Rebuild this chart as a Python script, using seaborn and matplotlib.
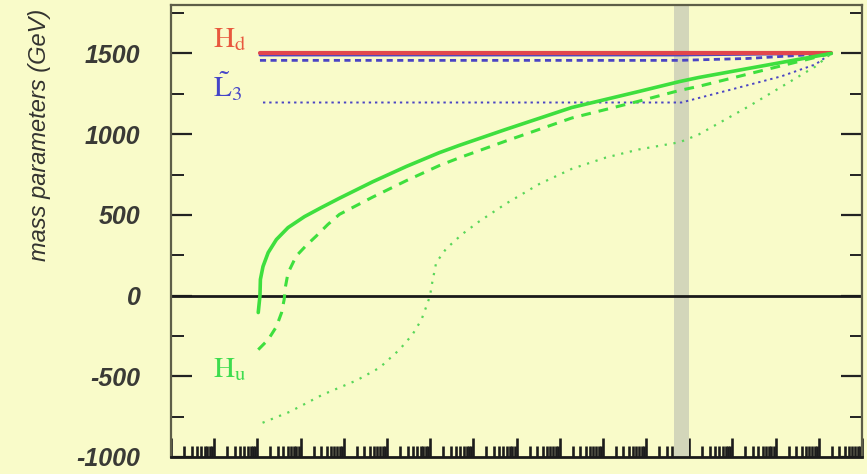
import numpy as np
import pandas as pd
import matplotlib
matplotlib.use("Agg")
import matplotlib.pyplot as plt
from matplotlib.ticker import LogLocator, MultipleLocator, NullFormatter, FixedLocator
import seaborn as sns

# ---- running of soft mass parameters, sign(m^2)*sqrt|m^2| in GeV, vs log10(Q/GeV) ----
# H_u (green), three scenarios: solid / dashed / dotted
hu_solid_logq = [3.02, 3.06, 3.07, 3.13, 3.25, 3.44, 3.71, 4.09, 4.48, 4.90, 5.67,
                 6.45, 7.21, 7.67, 8.76, 10.28, 11.83, 12.78, 13.22, 14.37, 16.29]
hu_solid_mass = [-105, 0, 100, 180, 266, 347, 421, 489, 545, 603, 705,
                 800, 885, 930, 1030, 1165, 1264, 1326, 1351, 1407, 1500]

hu_dashed_logq = [3.02, 3.25, 3.44, 3.56, 3.62, 3.65, 3.71, 3.90, 4.13, 4.36, 4.63,
                  4.90, 5.67, 6.45, 7.21, 7.67, 8.76, 10.28, 11.83, 12.78, 13.22,
                  14.60, 16.29]
hu_dashed_mass = [-335, -273, -193, -106, -25, 55, 140, 245, 310, 368, 440,
                  503, 610, 712, 805, 853, 958, 1100, 1204, 1271, 1296,
                  1388, 1500]

hu_dotted_logq = [3.12, 3.75, 4.51, 5.30, 5.83, 6.29, 6.59, 6.80, 6.91, 7.00, 7.03,
                  7.14, 7.37, 7.74, 8.14, 8.76, 9.52, 10.28, 11.07, 11.83, 12.78,
                  13.22, 14.37, 15.92, 16.29]
hu_dotted_mass = [-788, -720, -614, -525, -447, -335, -242, -149, -69, 0, 55,
                  204, 290, 380, 460, 570, 690, 785, 855, 905, 950,
                  998, 1171, 1419, 1500]

# L3 (blue)
l3_solid_logq = [3.06, 12.78, 16.29]
l3_solid_mass = [1490, 1490, 1500]
l3_dashed_logq = [3.06, 12.78, 14.37, 16.29]
l3_dashed_mass = [1457, 1457, 1469, 1500]
l3_dotted_logq = [3.13, 12.82, 13.98, 15.13, 15.92, 16.29]
l3_dotted_mass = [1196, 1196, 1277, 1358, 1432, 1500]

# H_d (red)
hd_logq = [3.06, 16.29]
hd_mass = [1500, 1500]

# right-handed neutrino threshold band, log10(Q/GeV)
threshold_logq = [12.64, 12.99]

y_ticks = [-1000, -500, 0, 500, 1000, 1500]

BG = "#F9FBC9"
GREEN = "#3EDF3E"
GREEN_DOT = "#5AD65A"
BLUE = "#4A44C4"
RED = "#E2464C"
SPINE = "#5E5E48"

sns.set_theme(style="ticks")
plt.rcParams["mathtext.fontset"] = "stix"
plt.rcParams["axes.unicode_minus"] = False
plt.rcParams["font.family"] = ["Liberation Sans", "DejaVu Sans"]

fig = plt.figure(figsize=(8.67, 4.74), dpi=100, facecolor=BG)
ax = fig.add_axes([171 / 867, 1 - 457 / 474, (862 - 171) / 867, (457 - 5) / 474])
ax.set_facecolor(BG)
ax.set_xscale("log")


def series(logq, mass):
    return pd.DataFrame({"Q": np.power(10.0, logq), "m": mass})


ax.axvspan(10 ** threshold_logq[0], 10 ** threshold_logq[1], color="#D3D6BA", lw=0, zorder=1)
ax.axhline(0, color="#1a1a1a", lw=2.0, zorder=2)

curves = [
    (l3_solid_logq, l3_solid_mass, BLUE, "-", 2.0),
    (l3_dashed_logq, l3_dashed_mass, BLUE, (0, (2.2, 1.6)), 2.0),
    (l3_dotted_logq, l3_dotted_mass, BLUE, (0, (1.2, 2.0)), 1.4),
    (hd_logq, hd_mass, RED, "-", 3.0),
    (hu_solid_logq, hu_solid_mass, GREEN, "-", 2.6),
    (hu_dashed_logq, hu_dashed_mass, GREEN, (0, (3.2, 2.6)), 2.2),
    (hu_dotted_logq, hu_dotted_mass, GREEN_DOT, (0, (1.0, 3.0)), 1.6),
]
for logq, mass, col, ls, lw in curves:
    sns.lineplot(data=series(logq, mass), x="Q", y="m", sort=False, estimator=None,
                 color=col, lw=lw, linestyle=ls, ax=ax, zorder=3)

ax.set_xlim(1e1, 1e17)
ax.set_ylim(-1000, 1800)
ax.set_xlabel("")
ax.set_ylabel("")

# ticks: inward on left/right, dense log ticks on the bottom, none on top
ax.xaxis.set_major_locator(LogLocator(base=10, numticks=30))
ax.xaxis.set_minor_locator(LogLocator(base=10, subs=np.arange(2, 10), numticks=30))
ax.xaxis.set_major_formatter(NullFormatter())
ax.xaxis.set_minor_formatter(NullFormatter())
ax.tick_params(axis="x", which="major", direction="in", length=14, width=1.9,
               color="#1c1c1c", top=False, bottom=True)
ax.tick_params(axis="x", which="minor", direction="in", length=8, width=1.9,
               color="#1c1c1c", top=False, bottom=True)

ax.yaxis.set_major_locator(FixedLocator(y_ticks))
ax.yaxis.set_minor_locator(MultipleLocator(250))
ax.tick_params(axis="y", which="major", direction="in", length=15, width=1.6,
               color="#222222", left=True, right=True, pad=22)
ax.tick_params(axis="y", which="minor", direction="in", length=9, width=1.4,
               color="#222222", left=True, right=True)
for lab in ax.get_yticklabels():
    lab.set_fontsize(18)
    lab.set_fontweight("bold")
    lab.set_fontstyle("italic")
    lab.set_color("#3a3a36")

for side in ["left", "right", "top"]:
    ax.spines[side].set_color(SPINE)
    ax.spines[side].set_linewidth(1.6)
ax.spines["bottom"].set_color("#1a1a1a")
ax.spines["bottom"].set_linewidth(2.0)

# curve labels
ax.text(10 ** 1.97, 1537, r"$\mathrm{H}_{\mathrm{d}}$", color="#E8583E", fontsize=21,
        ha="left", va="baseline", zorder=4)
ax.text(10 ** 1.97, 1227, r"$\tilde{\mathrm{L}}_{3}$", color="#4545C8", fontsize=21,
        ha="left", va="baseline", zorder=4)
ax.text(10 ** 1.97, -503, r"$\mathrm{H}_{\mathrm{u}}$", color="#3EDC4E", fontsize=21,
        ha="left", va="baseline", zorder=4)

fig.text(40 / 867, 1 - 135 / 474, "mass parameters (GeV)", rotation=90,
         ha="center", va="center", fontsize=17, fontstyle="italic", color="#333330")

fig.savefig("out.png", dpi=100, facecolor=BG)
